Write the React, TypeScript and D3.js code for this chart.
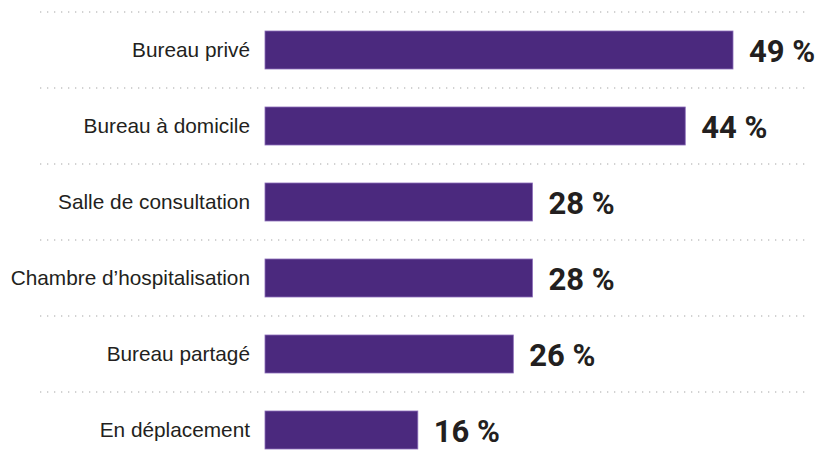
import React from "react";
import * as d3 from "d3";

const categories = [
  "Bureau privé",
  "Bureau à domicile",
  "Salle de consultation",
  "Chambre d’hospitalisation",
  "Bureau partagé",
  "En déplacement",
];
const values = [49, 44, 28, 28, 26, 16];
const valueLabels = ["49 %", "44 %", "28 %", "28 %", "26 %", "16 %"];

const W = 830;
const H = 466;

export default function App() {
  const x = d3.scaleLinear().domain([0, 49]).range([265, 733]);
  const y = d3
    .scaleBand<string>()
    .domain(categories)
    .range([12, 468])
    .paddingInner(0.5)
    .paddingOuter(0.25);
  const step = y.step();
  const gridY = categories.map((c) => (y(c) as number) - step * 0.25);

  return (
    <div style={{ position: "fixed", left: 0, top: 0 }}>
      <svg width={W} height={H} style={{ display: "block", background: "#fff" }}>
        {gridY.map((gy, i) => (
          <line
            key={"g" + i}
            x1={40}
            x2={810}
            y1={gy}
            y2={gy}
            stroke="#c4c4c4"
            strokeWidth={1.3}
            strokeDasharray="1.3 5.7"
          />
        ))}
        {categories.map((c, i) => {
          const by = y(c) as number;
          const bw = y.bandwidth();
          return (
            <g key={c}>
              <rect
                x={x(0)}
                y={by}
                width={x(values[i]) - x(0)}
                height={bw}
                fill="#4b297e"
                stroke="#8a6cb8"
                strokeWidth={0.8}
              />
              <text
                x={250}
                y={by + bw / 2}
                dy="0.35em"
                textAnchor="end"
                fontFamily="'Liberation Sans', Arial, sans-serif"
                fontSize={20.8}
                fill="#231f20"
              >
                {c}
              </text>
              <text
                x={x(values[i]) + 16}
                y={by + bw / 2 + 1}
                dy="0.36em"
                fontFamily="Roboto, sans-serif"
                fontWeight={700}
                fontSize={31}
                fill="#231f20"
              >
                {valueLabels[i]}
              </text>
            </g>
          );
        })}
      </svg>
    </div>
  );
}
